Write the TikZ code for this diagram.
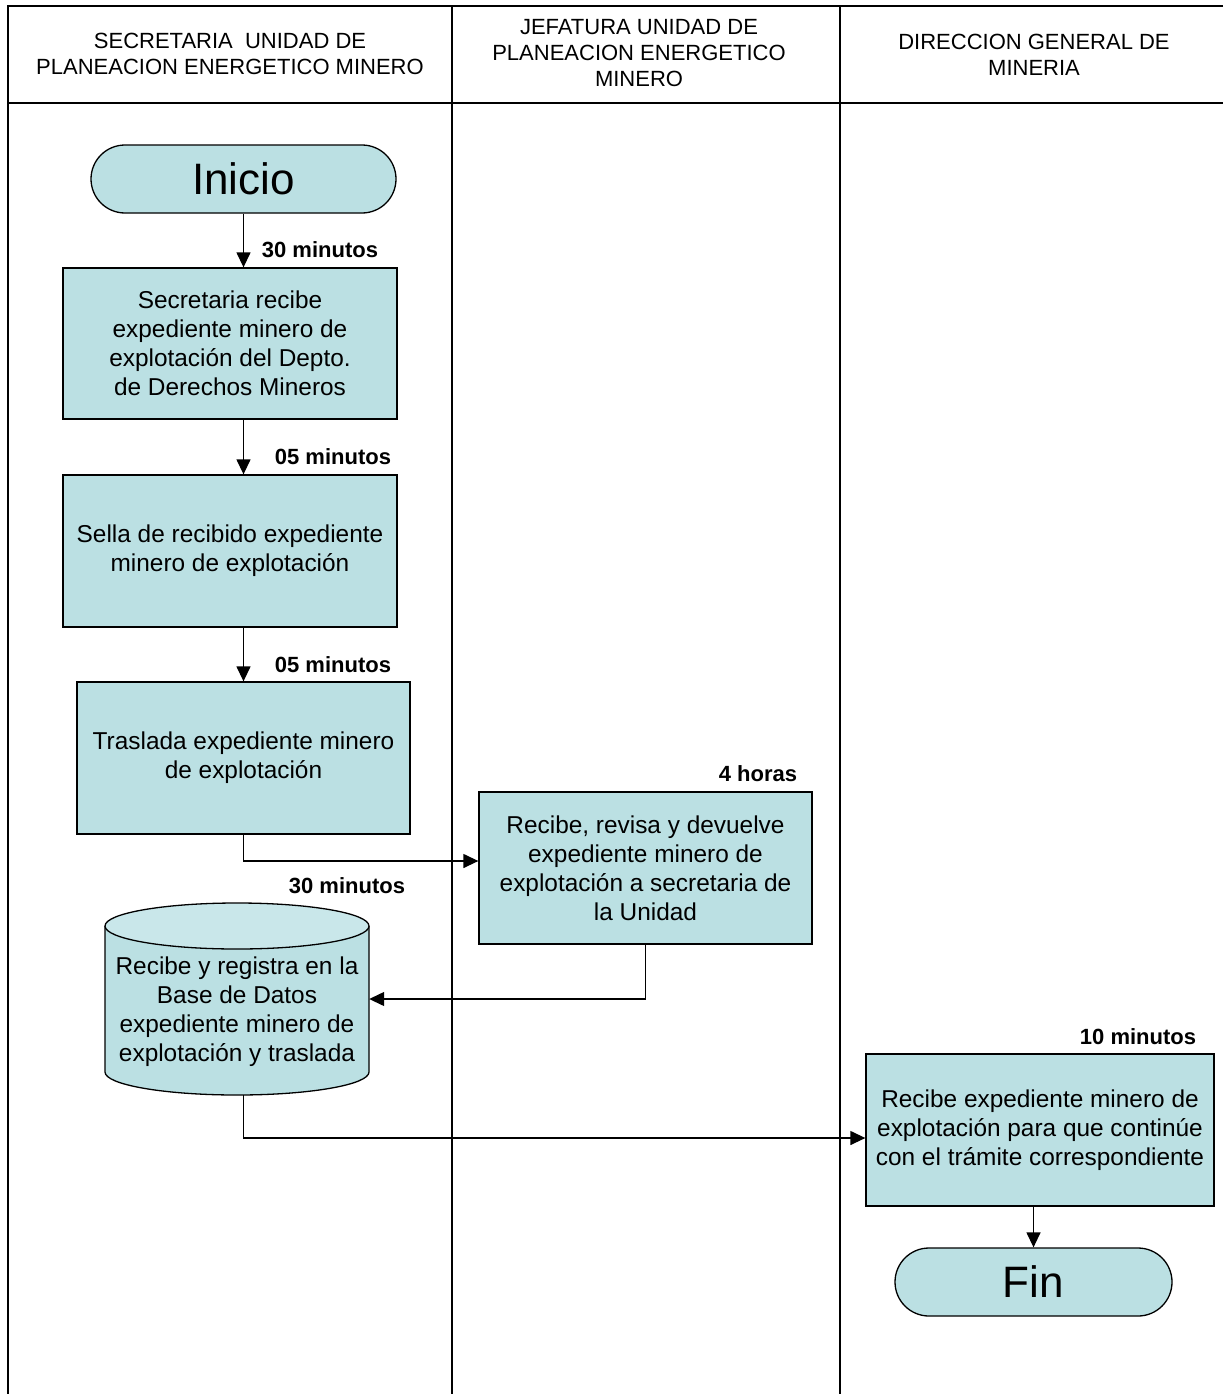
\documentclass[tikz,border=0pt]{standalone}
\usepackage{fontspec}
\setmainfont{Liberation Sans}
\usetikzlibrary{arrows.meta,shapes.misc}
\definecolor{boxfill}{HTML}{BBE0E3}
\definecolor{topfill}{HTML}{C9E7EA}
\begin{document}
\begin{tikzpicture}[x=1pt,y=-1pt,
  lane/.style={line width=1.6pt},
  proc/.style={draw, line width=1.3pt, fill=boxfill, inner sep=0pt, align=center,
    font=\fontsize{24.4}{29}\selectfont},
  term/.style={rounded rectangle, draw, line width=1.3pt, fill=boxfill, inner sep=0pt,
    font=\fontsize{44}{50}\selectfont},
  lbl/.style={font=\bfseries\fontsize{22}{26}\selectfont, inner sep=0pt},
  hdr/.style={align=center, inner sep=0pt, font=\fontsize{22}{26}\selectfont},
  conn/.style={line width=1.3pt, -{Triangle[length=15pt,width=14pt]}}
]
\useasboundingbox[fill=white] (0,0) rectangle (1223,1394);
% lanes
\draw[lane] (1223,6) -- (8,6) -- (8,1394);
\draw[lane] (8,103) -- (1223,103);
\draw[lane] (452,6) -- (452,1394);
\draw[lane] (840,6) -- (840,1394);
\node[hdr] (h1) at (230,54) {SECRETARIA\ \ UNIDAD DE\\PLANEACION ENERGETICO MINERO};
\node[hdr] (h2) at (639,53) {JEFATURA UNIDAD DE\\PLANEACION ENERGETICO\\MINERO};
\node[hdr] (h3) at (1034,55) {DIRECCION GENERAL DE\\MINERIA};
% nodes
\node[term, minimum width=305pt, minimum height=68pt] (ini) at (243.5,179) {Inicio};
\node[proc, minimum width=334pt, minimum height=151pt] (b1) at (230,343.5)
  {Secretaria recibe\\expediente minero de\\explotación del Depto.\\de Derechos Mineros};
\node[proc, minimum width=334pt, minimum height=152pt] (b2) at (230,551)
  {Sella de recibido expediente\\minero de explotación};
\node[proc, minimum width=333pt, minimum height=152pt] (b3) at (243.5,758)
  {Traslada expediente minero\\de explotación};
\node[proc, minimum width=333pt, minimum height=152pt] (b4) at (645.5,868)
  {Recibe, revisa y devuelve\\expediente minero de\\explotación a secretaria de\\la Unidad};
% cylinder
\node[minimum width=264pt, minimum height=192pt, inner sep=0pt] (cyl) at (237,999) {};
\fill[boxfill] (105,926) -- (105,1072) arc[start angle=180, end angle=360, x radius=132pt, y radius=23pt]
  -- (369,926) -- cycle;
\draw[line width=1.3pt] (105,926) -- (105,1072) arc[start angle=180, end angle=360, x radius=132pt, y radius=23pt]
  -- (369,926);
\draw[line width=1.3pt, fill=topfill] (237,926) ellipse[x radius=132pt, y radius=23pt];
\node[align=center, inner sep=0pt, font=\fontsize{24.4}{29}\selectfont] (cyltxt) at (237,1012)
  {Recibe y registra en la\\Base de Datos\\expediente minero de\\explotación y traslada};
\node[proc, minimum width=348pt, minimum height=152pt] (b5) at (1040,1130)
  {Recibe expediente minero de\\explotación para que continúe\\con el trámite correspondiente};
\node[term, minimum width=277pt, minimum height=68pt] (fin) at (1033.5,1282) {Fin};
% labels
\node[lbl] (l1) at (320,250) {30 minutos};
\node[lbl] (l2) at (333,457) {05 minutos};
\node[lbl] (l3) at (333,665) {05 minutos};
\node[lbl] (l4) at (758,774) {4 horas};
\node[lbl] (l5) at (347,886) {30 minutos};
\node[lbl] (l6) at (1138,1037) {10 minutos};
% connectors
\draw[conn] (ini.south) -- (ini.south |- b1.north);
\draw[conn] (ini.south |- b1.south) -- (ini.south |- b2.north);
\draw[conn] (ini.south |- b2.south) -- (b3.north);
\draw[conn] (b3.south) |- ([yshift=7pt]b4.west);
\draw[conn] (b4.south) |- (cyl.east);
\draw[conn] (ini.south |- cyl.south) |- ([yshift=-8pt]b5.west);
\draw[conn] (fin.north |- b5.south) -- (fin.north);
\end{tikzpicture}
\end{document}
